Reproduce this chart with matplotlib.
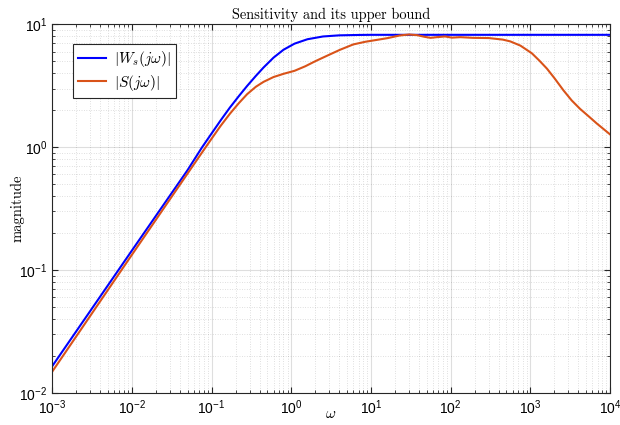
import matplotlib
matplotlib.use('Agg')
import matplotlib.pyplot as plt
import matplotlib.ticker as mticker
import numpy as np

plt.rcParams['font.family'] = ['Liberation Sans', 'DejaVu Sans']
plt.rcParams['mathtext.fontset'] = 'cm'

# |W_s(jw)|
w_ws = [1e-3, 0.01, 0.05, 0.0755, 0.1, 0.13, 0.17, 0.22, 0.28, 0.36,
        0.45, 0.6, 0.8, 1.1, 1.6, 2.5, 4.0, 7.0, 10.0, 100.0, 1e3, 1e4]
mag_ws = [0.0165, 0.144, 0.65, 0.99, 1.29, 1.65, 2.1, 2.6, 3.15, 3.8,
          4.45, 5.35, 6.2, 6.95, 7.55, 7.95, 8.12, 8.18, 8.2, 8.2, 8.2, 8.2]

# |S(jw)|
w_s = [1e-3, 0.01, 0.05, 0.08, 0.1, 0.13, 0.17, 0.22, 0.28, 0.36,
       0.45, 0.6, 0.8, 1.1, 1.5, 2.0, 3.0, 4.1, 6.0, 8.5,
       11.3, 16.0, 23.0, 30.0, 38.0, 47.0, 56.0, 67.0, 85.0, 104.0,
       132.0, 190.0, 300.0, 450.0, 560.0, 750.0, 1045.0, 1300.0, 1611.0, 2000.0,
       2600.0, 3300.0, 4200.0, 5400.0, 6800.0, 1e4]
mag_s = [0.0149, 0.133, 0.61, 0.95, 1.17, 1.49, 1.87, 2.28, 2.7, 3.1,
         3.4, 3.72, 3.95, 4.18, 4.55, 5.0, 5.65, 6.2, 6.85, 7.2,
         7.42, 7.7, 8.1, 8.25, 8.15, 7.9, 7.75, 7.85, 7.95, 7.78,
         7.85, 7.75, 7.72, 7.5, 7.25, 6.7, 5.8, 5.05, 4.36, 3.65,
         2.9, 2.4, 2.05, 1.78, 1.56, 1.27]

fig = plt.figure(figsize=(6.2, 4.25), dpi=100)
ax = fig.add_axes([0.084, 0.075, 0.900, 0.868])

ax.loglog(w_ws, mag_ws, color=(0, 0, 1), lw=1.5, label=r'$|W_s(j\omega)|$')
ax.loglog(w_s, mag_s, color=(0.85, 0.325, 0.098), lw=1.5, label=r'$|S(j\omega)|$')

ax.set_xlim(1e-3, 1e4)
ax.set_ylim(1e-2, 1e1)
ax.xaxis.set_major_locator(mticker.LogLocator(base=10, numticks=20))
ax.xaxis.set_minor_locator(mticker.LogLocator(base=10, subs=np.arange(2, 10), numticks=100))
ax.yaxis.set_minor_locator(mticker.LogLocator(base=10, subs=np.arange(2, 10), numticks=100))
ax.xaxis.set_minor_formatter(mticker.NullFormatter())
ax.yaxis.set_minor_formatter(mticker.NullFormatter())

ax.grid(True, which='major', color='0.15', alpha=0.15, lw=0.8, ls='-')
ax.grid(True, which='minor', color='0.15', alpha=0.28, lw=0.5, ls=(0, (1, 2.5)))
ax.tick_params(which='both', direction='in', top=True, right=True, labelsize=10, color='0.15')
ax.tick_params(which='major', length=4.5)
ax.tick_params(which='minor', length=2.5)
for s in ax.spines.values():
    s.set_color('0.15')
    s.set_linewidth(0.8)

ax.set_title('Sensitivity and its upper bound', family='cmr10', fontsize=10.4, pad=4)
ax.set_xlabel(r'$\omega$', fontsize=11)
ax.xaxis.set_label_coords(0.5, -0.038)
ax.set_ylabel('magnitude', family='cmr10', fontsize=10.5)
ax.yaxis.set_label_coords(-0.05, 0.5)

leg = ax.legend(loc='upper left', bbox_to_anchor=(0.024, 0.968), fontsize=11,
                fancybox=False, framealpha=1, edgecolor='0.15', handlelength=1.8,
                handletextpad=0.5, borderpad=0.35, labelspacing=0.25)
leg.get_frame().set_linewidth(0.8)

fig.savefig('out.png', dpi=100)
